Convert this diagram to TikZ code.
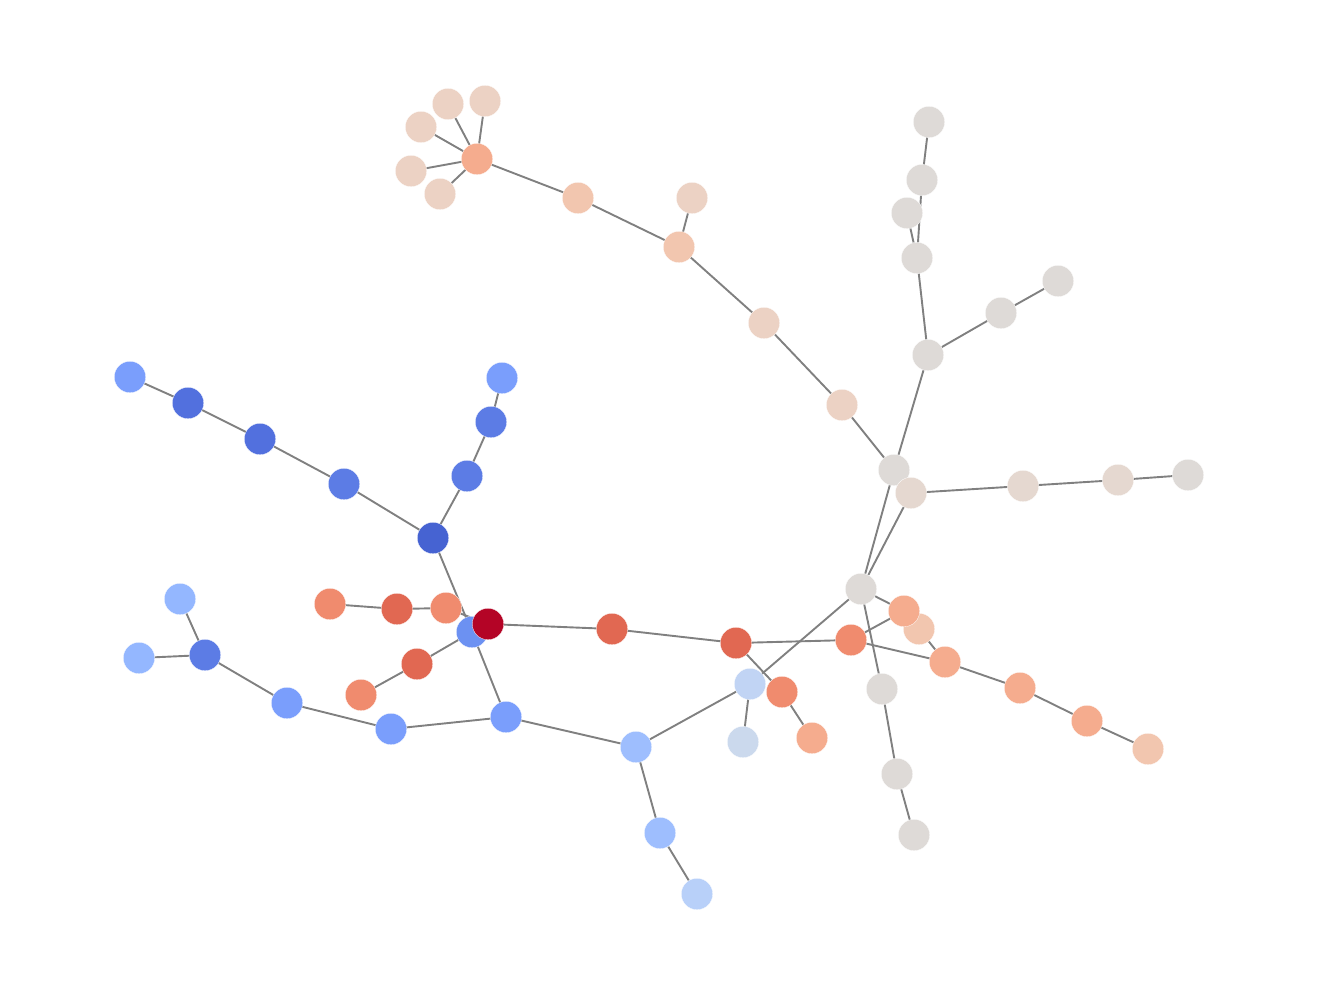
\documentclass[tikz,border=0pt]{standalone}
\begin{document}
\begin{tikzpicture}[x=1pt,y=-1pt,
  nd/.style={circle,inner sep=0pt,minimum size=31.5pt,draw=white,line width=0.3pt},
  ed/.style={draw=black!50,line width=1.9pt}]
\definecolor{cA}{RGB}{180,4,38}
\definecolor{cB}{RGB}{225,104,82}
\definecolor{cC}{RGB}{240,139,110}
\definecolor{cD}{RGB}{245,172,142}
\definecolor{cE}{RGB}{242,198,175}
\definecolor{cF}{RGB}{236,210,196}
\definecolor{cG}{RGB}{222,218,215}
\definecolor{cH}{RGB}{229,216,208}
\definecolor{cI}{RGB}{193,212,244}
\definecolor{cJ}{RGB}{203,217,237}
\definecolor{cK}{RGB}{184,208,249}
\definecolor{cL}{RGB}{158,190,254}
\definecolor{cM}{RGB}{148,183,255}
\definecolor{cN}{RGB}{122,158,252}
\definecolor{cO}{RGB}{108,145,242}
\definecolor{cP}{RGB}{92,124,229}
\definecolor{cQ}{RGB}{82,112,222}
\definecolor{cR}{RGB}{70,99,210}
\useasboundingbox (0,0) rectangle (1320,998);
% coordinates of nodes
\path
 (477,159) coordinate (a0) (485,101) coordinate (a1) (448,104) coordinate (a2)
 (421,127) coordinate (a3) (411,171) coordinate (a4) (440,194) coordinate (a5)
 (578,198) coordinate (a6) (679,247) coordinate (a7) (692,198) coordinate (a8)
 (764,323) coordinate (a9) (842,405) coordinate (a10)
 (894,470) coordinate (g1) (928,355) coordinate (g2) (917,258) coordinate (g3)
 (922,180) coordinate (g4) (929,122) coordinate (g5) (907,213) coordinate (g6)
 (1001,313) coordinate (g7) (1058,281) coordinate (g8) (911,493) coordinate (g9)
 (1023,486) coordinate (g10) (1118,480) coordinate (g11) (1188,475) coordinate (g12)
 (861,589) coordinate (g13) (882,689) coordinate (g14) (897,774) coordinate (g15)
 (914,835) coordinate (g16)
 (904,611) coordinate (p1) (919,629) coordinate (p2) (851,640) coordinate (r1)
 (945,662) coordinate (p3) (1020,688) coordinate (p4) (1087,721) coordinate (p5)
 (1148,749) coordinate (p6) (736,643) coordinate (r2) (782,692) coordinate (r3)
 (812,738) coordinate (p7) (612,629) coordinate (r4) (488,624) coordinate (c)
 (446,608) coordinate (r5) (397,609) coordinate (r6) (330,604) coordinate (r7)
 (417,664) coordinate (r8) (361,695) coordinate (r9)
 (472,632) coordinate (b1) (433,538) coordinate (b2) (467,476) coordinate (b3)
 (491,422) coordinate (b4) (502,378) coordinate (b5) (344,484) coordinate (b6)
 (260,439) coordinate (b7) (188,403) coordinate (b8) (130,377) coordinate (b9)
 (506,717) coordinate (b10) (391,729) coordinate (b11) (287,703) coordinate (b12)
 (205,655) coordinate (b13) (139,658) coordinate (b14) (180,599) coordinate (b15)
 (636,747) coordinate (b16) (660,833) coordinate (b17) (697,894) coordinate (b18)
 (750,684) coordinate (b19) (743,742) coordinate (b20);
% edges
\foreach \u/\v in {a0/a1,a0/a2,a0/a3,a0/a4,a0/a5,a0/a6,a6/a7,a7/a8,a7/a9,a9/a10,
  a10/g1,g1/g2,g2/g3,g3/g4,g4/g5,g3/g6,g2/g7,g7/g8,g1/g13,g9/g13,g9/g10,g10/g11,
  g11/g12,g13/b19,g13/g14,g14/g15,g15/g16,g13/p1,r1/p1,p2/p3,r1/p3,p3/p4,p4/p5,
  p5/p6,r2/r1,r2/r3,r3/p7,r4/r2,c/r4,c/r5,r5/r6,r6/r7,c/b1,b1/r8,r8/r9,b1/b2,
  b2/b3,b3/b4,b4/b5,b2/b6,b6/b7,b7/b8,b8/b9,b1/b10,b10/b11,b11/b12,b12/b13,
  b13/b14,b13/b15,b10/b16,b16/b17,b17/b18,b16/b19,b19/b20}
  \draw[ed] (\u) -- (\v);
% nodes
\foreach \p/\col in {a0/cD,a1/cF,a2/cF,a3/cF,a4/cF,a5/cF,a6/cE,a7/cE,a8/cF,a9/cF,
  a10/cF,g1/cG,g9/cH,g2/cG,g3/cG,g4/cG,g5/cG,g6/cG,g7/cG,g8/cG,g10/cH,g11/cH,
  g12/cG,g13/cG,g14/cG,g15/cG,g16/cG,p2/cE,p1/cD,r1/cC,p3/cD,p4/cD,p5/cD,p6/cE,
  r2/cB,r3/cC,p7/cD,r4/cB,r5/cC,r6/cB,r7/cC,r8/cB,r9/cC,b1/cO,c/cA,b2/cR,b3/cP,
  b4/cP,b5/cN,b6/cP,b7/cQ,b8/cQ,b9/cN,b10/cN,b11/cN,b12/cN,b13/cP,b14/cM,b15/cM,
  b16/cL,b17/cL,b18/cK,b19/cI,b20/cJ}
  \node[nd,fill=\col] (n\p) at (\p) {};
\end{tikzpicture}
\end{document}
